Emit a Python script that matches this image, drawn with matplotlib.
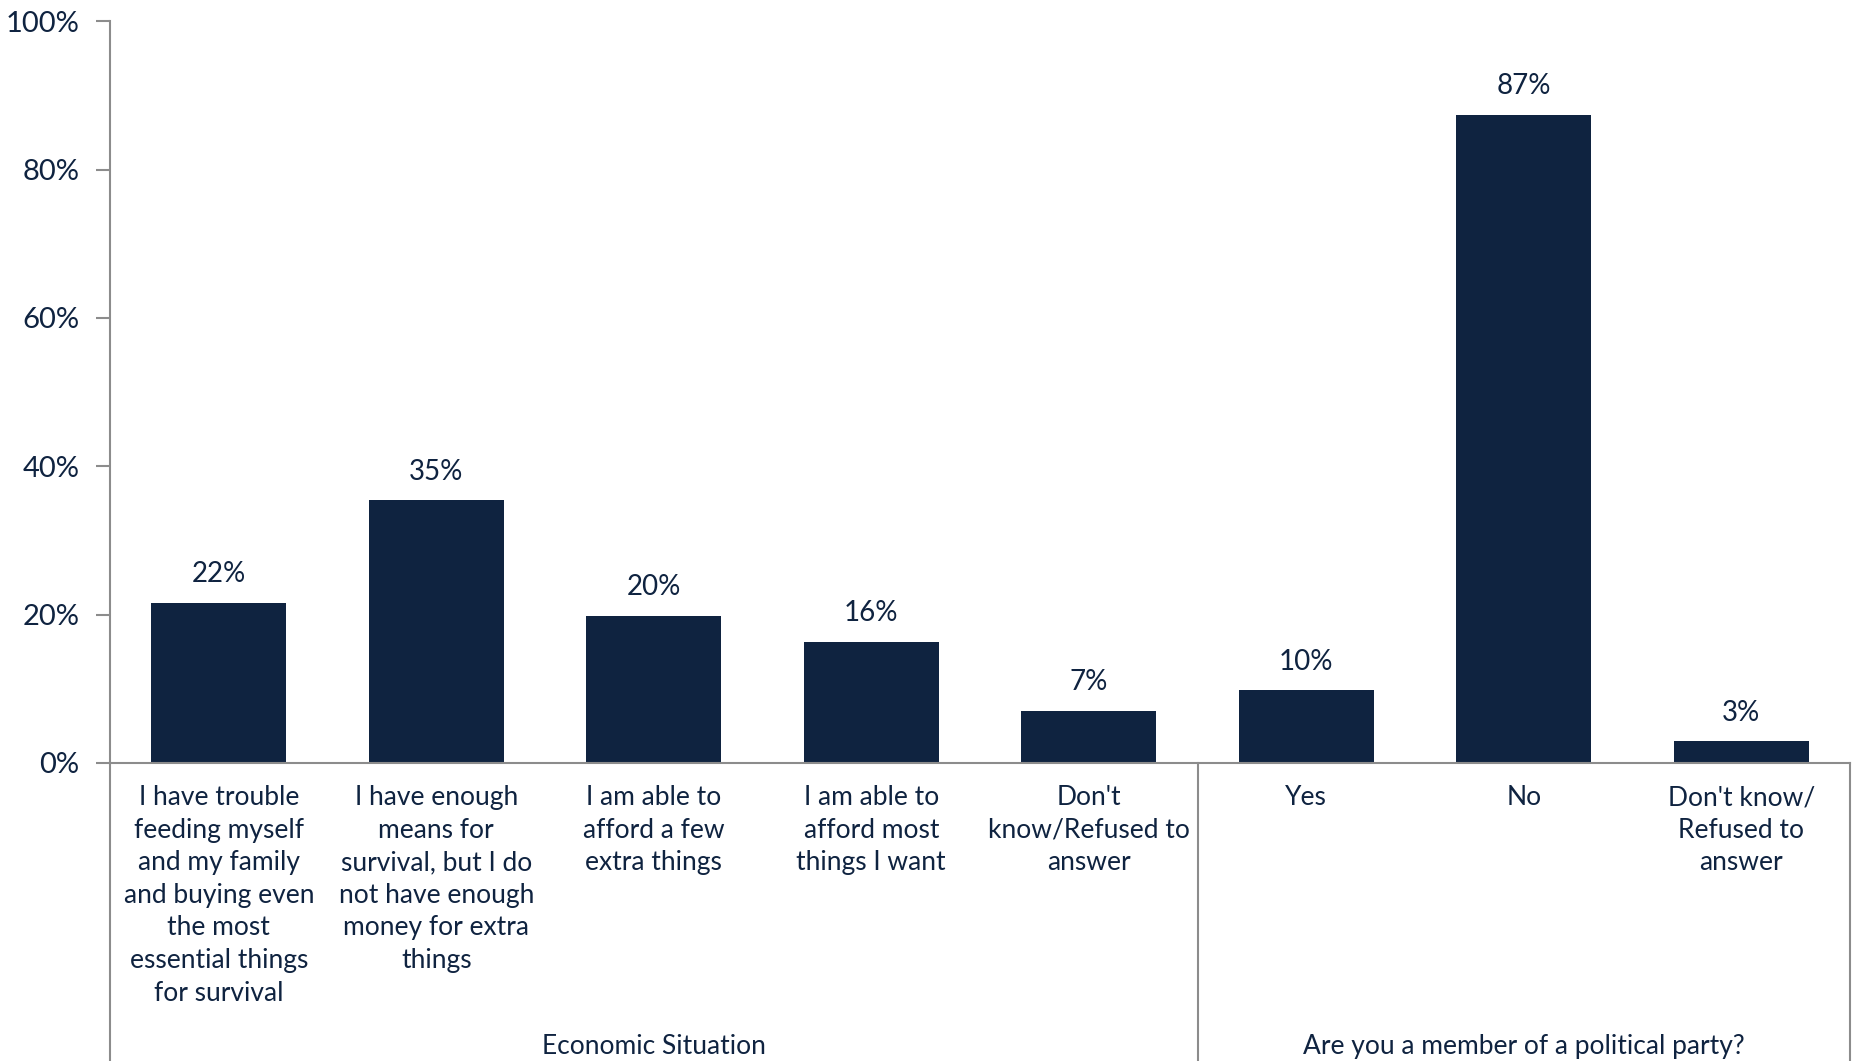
import matplotlib.pyplot as plt
from matplotlib.ticker import PercentFormatter

# survey answers, two question groups
categories = [
    "I have trouble\nfeeding myself\nand my family\nand buying even\nthe most\nessential things\nfor survival",
    "I have enough\nmeans for\nsurvival, but I do\nnot have enough\nmoney for extra\nthings",
    "I am able to\nafford a few\nextra things",
    "I am able to\nafford most\nthings I want",
    "Don't\nknow/Refused to\nanswer",
    "Yes",
    "No",
    "Don't know/\nRefused to\nanswer",
]
values = [21.6, 35.4, 19.8, 16.3, 7.0, 9.8, 87.4, 2.9]
value_labels = ["22%", "35%", "20%", "16%", "7%", "10%", "87%", "3%"]
groups = ["Economic Situation", "Are you a member of a political party?"]
group_sizes = [5, 3]

navy = "#0f2340"
grey = "#8c8c8c"

plt.rcParams['font.family'] = ['Lato', 'DejaVu Sans']

fig = plt.figure(figsize=(18.62, 10.61), dpi=100)
ax = fig.add_axes([0.0591, 0.281, 0.9345, 0.699])

x = list(range(len(categories)))
ax.bar(x, values, width=0.62, color=navy)

for xi, v, lab in zip(x, values, value_labels):
    ax.text(xi, v + 2.1, lab, ha='center', va='bottom', fontsize=20, color=navy)

ax.set_xlim(-0.5, len(categories) - 0.5)
ax.set_ylim(0, 100)
ax.set_yticks([0, 20, 40, 60, 80, 100])
ax.yaxis.set_major_formatter(PercentFormatter(decimals=0))
ax.tick_params(axis='y', colors=grey, labelcolor=navy, labelsize=21, length=10, width=1.5, pad=12)

ax.set_xticks(x)
ax.set_xticklabels(categories, fontsize=19, color=navy, linespacing=1.38)
ax.tick_params(axis='x', length=0, pad=16)

for side in ['top', 'right']:
    ax.spines[side].set_visible(False)
for side in ['left', 'bottom']:
    ax.spines[side].set_color(grey)
    ax.spines[side].set_linewidth(1.5)

# group separators running down past the axis
trans = ax.get_xaxis_transform()
edge = -0.5
for g, n in zip(groups, group_sizes):
    ax.plot([edge, edge], [0, -0.45], color=grey, lw=1.5, transform=trans, clip_on=False)
    ax.text(edge + n / 2, -0.382, g, ha='center', va='center', fontsize=19, color=navy, transform=trans)
    edge += n
ax.plot([edge, edge], [0, -0.45], color=grey, lw=1.5, transform=trans, clip_on=False)

plt.savefig('out.png')
